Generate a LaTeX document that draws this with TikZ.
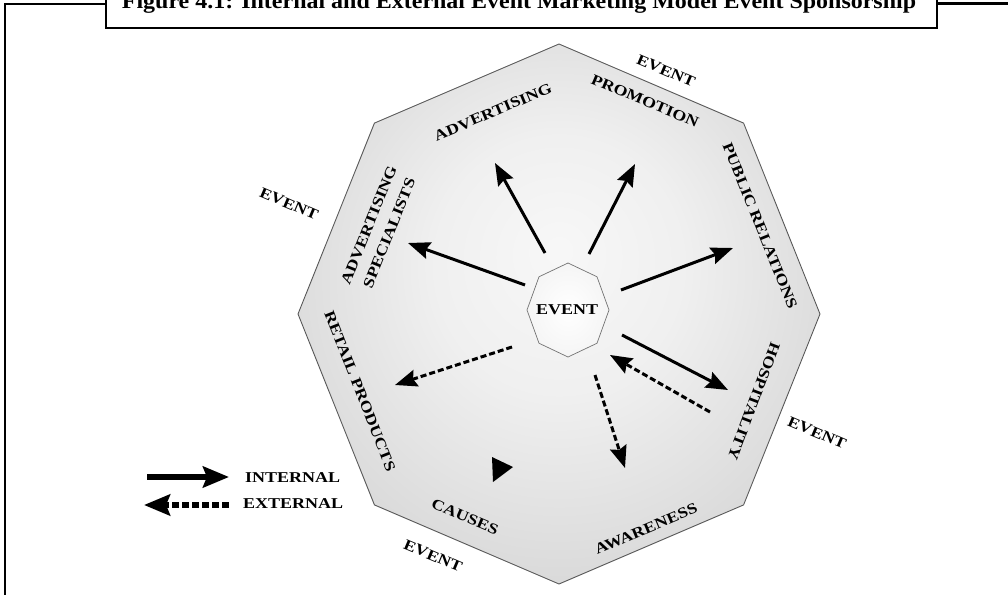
\documentclass[tikz,border=0pt]{standalone}
\usepackage{fontspec}
\setmainfont{Liberation Serif}
\newfontfamily\lblfont{Liberation Serif}[FakeStretch=1.2]
\newfontfamily\ttlfont{Liberation Serif}[FakeStretch=1.09]
\usetikzlibrary{arrows.meta}

% shading for the large octagon: light centre, grey rim
\pgfdeclareradialshading{octshade}{\pgfpoint{0bp}{6bp}}{%
  color(0bp)=(black!3); color(12bp)=(black!6); color(30bp)=(black!16);
  color(44bp)=(black!24); color(50bp)=(black!27)}
% shading for the small central octagon
\pgfdeclareradialshading{hubshade}{\pgfpoint{0bp}{0bp}}{%
  color(0bp)=(white); color(25bp)=(black!4); color(50bp)=(black!10)}

\tikzset{
  lbl/.style={font=\lblfont\bfseries\fontsize{15}{22}\selectfont, inner sep=0pt, align=center},
  intarrow/.style={line width=3pt, -{Stealth[length=22pt,width=17pt,inset=3pt]}},
  extarrow/.style={line width=3pt, dash pattern=on 6pt off 3pt,
                   -{Stealth[length=22pt,width=17pt,inset=3pt]}},
  frameline/.style={line width=2.6pt, black},
}

\begin{document}
\begin{tikzpicture}[x=1pt, y=-1pt]
\useasboundingbox (0,0) rectangle (1008,594);

% outer frame and title box
\draw[frameline] (5,600) -- (5,4) -- (106,4);
\draw[frameline] (937,3.5) -- (1012,3.5);
\node[draw, frameline, fill=white, minimum width=831pt, minimum height=40pt, inner sep=0pt]
  (titlebox) at (521.5,8) {};
\node[font=\ttlfont\bfseries\fontsize{22}{22}\selectfont, anchor=base] (title) at (519,8.5)
  {Figure 4.1: Internal and External Event Marketing Model Event Sponsorship};

% large octagon
\foreach \i in {0,...,7}
  \coordinate (v\i) at ({559+261*cos(45*\i)},{314-270*sin(45*\i)});
\shade[shading=octshade] (v0) -- (v1) -- (v2) -- (v3) -- (v4) -- (v5) -- (v6) -- (v7) -- cycle;
\draw[black!65, line width=0.9pt] (v0) -- (v1) -- (v2) -- (v3) -- (v4) -- (v5) -- (v6) -- (v7) -- cycle;

% central octagon
\foreach \i in {0,...,7}
  \coordinate (h\i) at ({568+41*cos(45*\i)},{310-47*sin(45*\i)});
\shade[shading=hubshade] (h0) -- (h1) -- (h2) -- (h3) -- (h4) -- (h5) -- (h6) -- (h7) -- cycle;
\draw[black!55, line width=0.7pt] (h0) -- (h1) -- (h2) -- (h3) -- (h4) -- (h5) -- (h6) -- (h7) -- cycle;
\node[lbl] (hub) at (567,310) {EVENT};

% segment labels
\node[rotate=23, lbl]    (adv)  at (493,112) {ADVERTISING};
\node[rotate=-23, lbl]   (prom) at (645,101) {PROMOTION};
\node[rotate=-68, lbl]   (pr)   at (760,226) {PUBLIC RELATIONS};
\node[rotate=-110.6, lbl](hosp) at (754,401) {HOSPITALITY};
\node[rotate=23, lbl]    (awar) at (646,529) {AWARENESS};
\node[rotate=-23, lbl]   (caus) at (465,517) {CAUSES};
\node[rotate=-68.5, lbl] (ret)  at (360,391) {RETAIL PRODUCTS};
\node[rotate=68, lbl]    (advs) at (379,229) {ADVERTISING\\SPECIALISTS};

% outer EVENT labels
\node[rotate=-23, lbl] (evtr) at (666,71)  {EVENT};
\node[rotate=-23, lbl] (evr)  at (817,433) {EVENT};
\node[rotate=-23, lbl] (evb)  at (433,556) {EVENT};
\node[rotate=-23, lbl] (evl)  at (289,204) {EVENT};

% arrow end points
\coordinate (a1s) at (525,285); \coordinate (a1e) at (408,243);
\coordinate (a2s) at (545,253); \coordinate (a2e) at (495,163);
\coordinate (a3s) at (589,254); \coordinate (a3e) at (635,164);
\coordinate (a4s) at (621,290); \coordinate (a4e) at (733,248);
\coordinate (a5s) at (622,335); \coordinate (a5e) at (728,390);
\coordinate (b1s) at (710,412); \coordinate (b1e) at (610,355);
\coordinate (b2s) at (595,375); \coordinate (b2e) at (625,468);
\coordinate (b3s) at (512,347); \coordinate (b3e) at (395,385);

% internal flows
\draw[intarrow] (a1s) -- (a1e);
\draw[intarrow] (a2s) -- (a2e);
\draw[intarrow] (a3s) -- (a3e);
\draw[intarrow] (a4s) -- (a4e);
\draw[intarrow] (a5s) -- (a5e);

% external flows
\draw[extarrow] (b1s) -- (b1e);
\draw[extarrow] (b2s) -- (b2e);
\draw[extarrow] (b3s) -- (b3e);

% lone arrowhead near CAUSES
\fill (492,457) -- (513,467) -- (493,482) -- cycle;

% legend
\coordinate (li1) at (147,477); \coordinate (li2) at (229,477);
\coordinate (le1) at (229,505); \coordinate (le2) at (144,505);
\draw[line width=5.5pt, -{Stealth[length=26pt,width=21pt,inset=4pt]}] (li1) -- (li2);
\draw[line width=5.5pt, dash pattern=on 7pt off 3pt,
      -{Stealth[length=26pt,width=21pt,inset=4pt]}] (le1) -- (le2);
\node[lbl, anchor=west] (lint) at (245,478) {INTERNAL};
\node[lbl, anchor=west] (lext) at (243,504) {EXTERNAL};
\end{tikzpicture}
\end{document}
